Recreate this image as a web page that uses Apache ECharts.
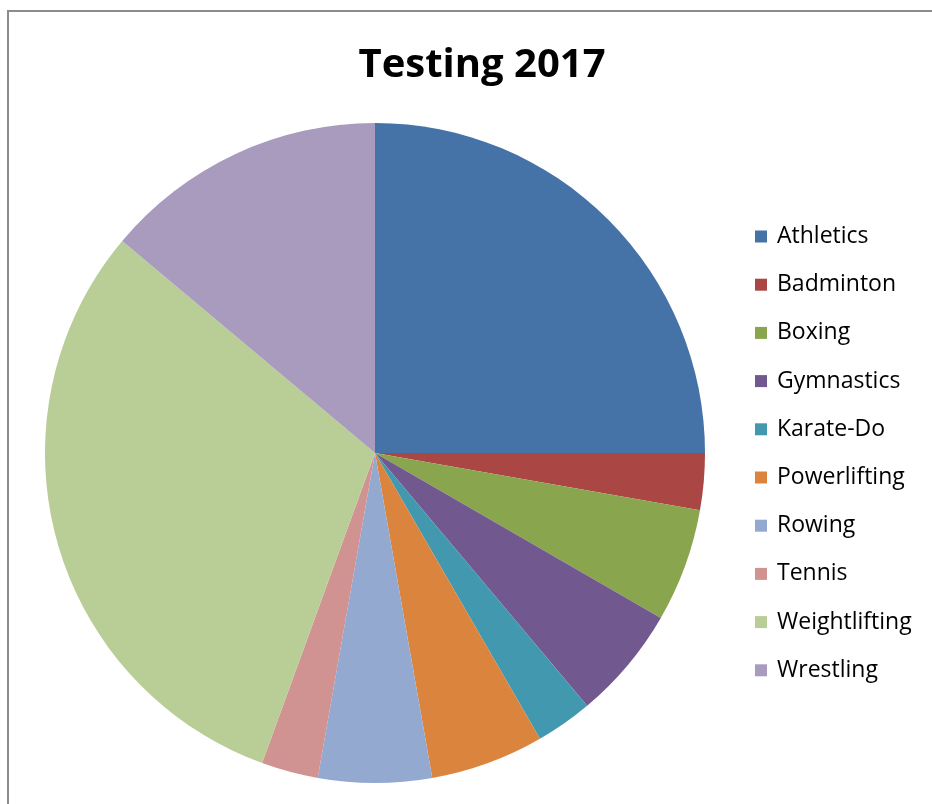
<!DOCTYPE html>
<html><head><meta charset="utf-8">
<script src="https://cdn.jsdelivr.net/npm/echarts@6/dist/echarts.min.js"></script>
<style>html,body{margin:0;padding:0;background:#fff}#c{width:932px;height:804px}</style>
</head><body><div id="c"></div>
<script>
const categories = ['Athletics','Badminton','Boxing','Gymnastics','Karate-Do','Powerlifting','Rowing','Tennis','Weightlifting','Wrestling'];
const values = [9,1,2,2,1,2,2,1,11,5];
const colors = ['#4572A7','#AA4643','#89A54E','#71588F','#4198AF','#DB843D','#93A9CF','#D19392','#B9CD96','#A99BBD'];
const chart = echarts.init(document.getElementById('c'));
chart.setOption({
  animation:false,
  color: colors,
  graphic:[{type:'rect',shape:{x:8,y:11,width:1000,height:1000},style:{fill:'none',stroke:'#8c8c8c',lineWidth:2},silent:true}],
  title:{text:'Testing 2017',left:477,top:41,textAlign:'center',textStyle:{fontFamily:'Open Sans',fontWeight:'bold',fontSize:40,color:'#000'}},
  legend:{orient:'vertical',left:750,top:220,itemWidth:12,itemHeight:12,itemGap:25.2,icon:'rect',
    textStyle:{fontFamily:'Open Sans',fontSize:23,lineHeight:22,color:'#000',padding:[0,0,0,5]},data:categories},
  series:[{type:'pie',center:[375,453],radius:330,startAngle:90,clockwise:true,label:{show:false},labelLine:{show:false},
    itemStyle:{borderWidth:0},emphasis:{disabled:true},
    data:categories.map((n,i)=>({name:n,value:values[i]}))}]
});
</script></body></html>
